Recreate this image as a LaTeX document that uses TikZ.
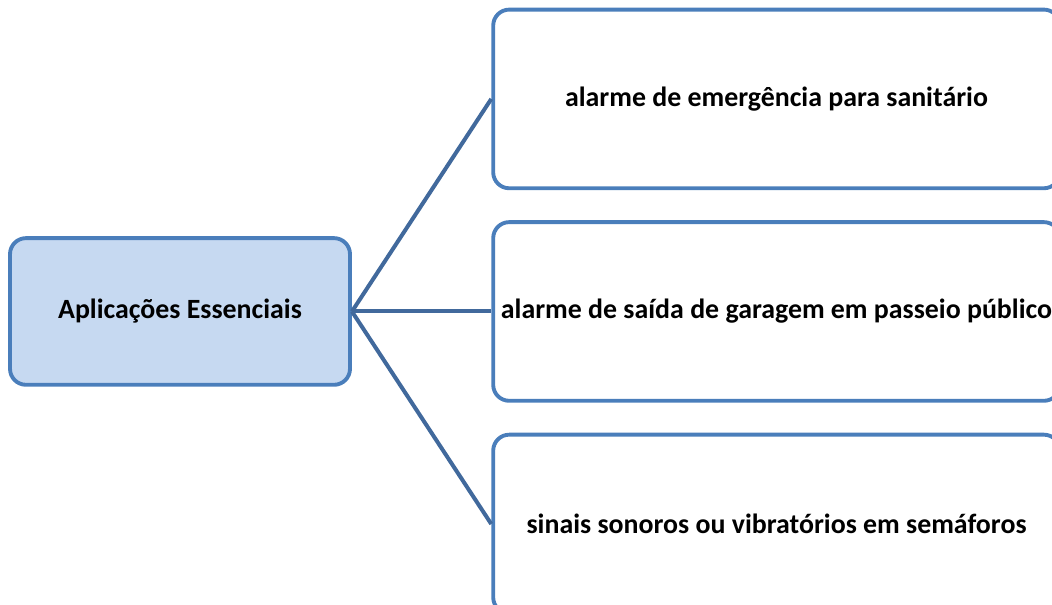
\documentclass[tikz,border=0pt]{standalone}
\usepackage{fontspec}
\setmainfont{Carlito}
\usetikzlibrary{positioning}
\definecolor{boxline}{HTML}{4A7EBB}
\definecolor{boxfill}{HTML}{C6D9F1}
\definecolor{linkline}{HTML}{41699C}

\begin{document}
\begin{tikzpicture}[
            node distance=22.5pt,
            font=\fontsize{20.9}{25}\selectfont\bfseries,
            root/.style={rectangle, rounded corners=12pt, minimum width=255pt, minimum height=110pt, draw=boxline, line width=2.9pt, fill=boxfill, text centered},
            branch/.style={rectangle, rounded corners=12pt, minimum width=425pt, minimum height=134pt, draw=boxline, line width=2.9pt, fill=white, text centered},
            link/.style={draw=linkline, line width=3pt}
        ]
        \useasboundingbox (0,0) rectangle (789pt,-453pt);

        % Nodi
        \node (main) [root] at (135pt,-233.6pt) {Aplicações Essenciais};

        \node (garage) [branch, right=104.5pt of main] {\makebox[0pt]{alarme de saída de garagem em passeio público}};
        \node (toilet) [branch, above=of garage] {alarme de emergência para sanitário};
        \node (signal) [branch, below=of garage] {sinais sonoros ou vibratórios em semáforos};

        % Collegamenti
        \draw [link] (main.east) -- (toilet.west);
        \draw [link] (main.east) -- (garage.west);
        \draw [link] (main.east) -- (signal.west);

    \end{tikzpicture}
\end{document}
